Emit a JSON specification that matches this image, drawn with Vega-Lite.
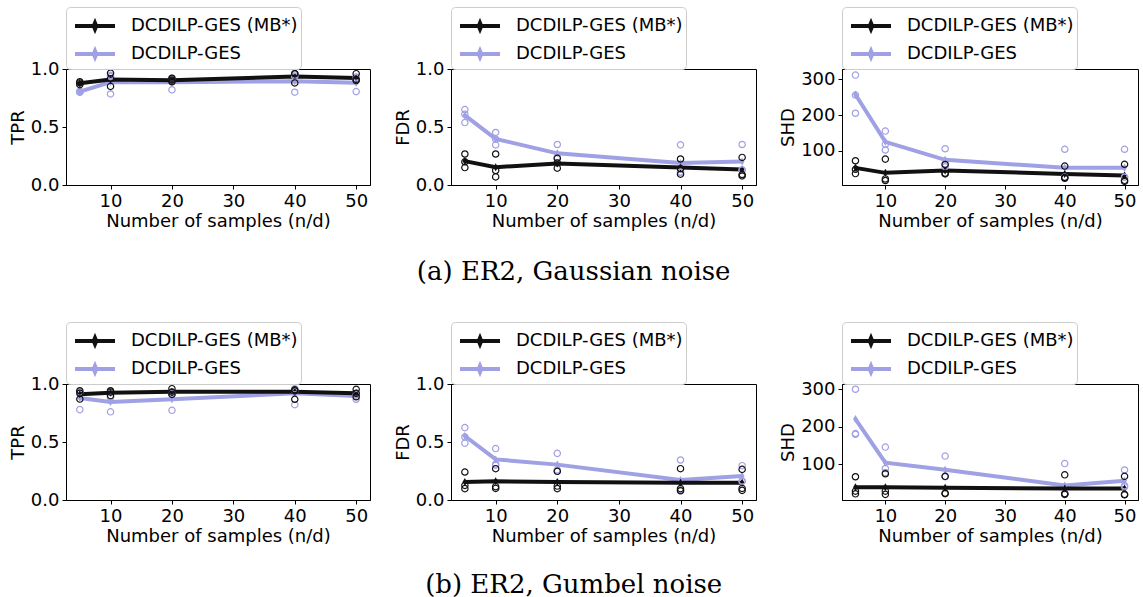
{
"$schema":"https://vega.github.io/schema/vega-lite/v6.json",
"padding":{"left":8,"top":6,"right":0,"bottom":0},
"background":"white",
"datasets":{"d":[
{"p":"aTPR","m":"DCDILP-GES","x":5,"v":0.805,"k":"mean"},{"p":"aTPR","m":"DCDILP-GES","x":10,"v":0.888,"k":"mean"},{"p":"aTPR","m":"DCDILP-GES","x":20,"v":0.885,"k":"mean"},{"p":"aTPR","m":"DCDILP-GES","x":40,"v":0.895,"k":"mean"},{"p":"aTPR","m":"DCDILP-GES","x":50,"v":0.882,"k":"mean"},
{"p":"aTPR","m":"DCDILP-GES (MB*)","x":5,"v":0.878,"k":"mean"},{"p":"aTPR","m":"DCDILP-GES (MB*)","x":10,"v":0.91,"k":"mean"},{"p":"aTPR","m":"DCDILP-GES (MB*)","x":20,"v":0.904,"k":"mean"},{"p":"aTPR","m":"DCDILP-GES (MB*)","x":40,"v":0.935,"k":"mean"},{"p":"aTPR","m":"DCDILP-GES (MB*)","x":50,"v":0.922,"k":"mean"},
{"p":"aTPR","m":"DCDILP-GES","x":5,"v":0.8,"k":"run"},{"p":"aTPR","m":"DCDILP-GES","x":5,"v":0.81,"k":"run"},{"p":"aTPR","m":"DCDILP-GES","x":5,"v":0.8,"k":"run"},
{"p":"aTPR","m":"DCDILP-GES","x":10,"v":0.785,"k":"run"},{"p":"aTPR","m":"DCDILP-GES","x":10,"v":0.935,"k":"run"},{"p":"aTPR","m":"DCDILP-GES","x":10,"v":0.945,"k":"run"},
{"p":"aTPR","m":"DCDILP-GES","x":20,"v":0.82,"k":"run"},{"p":"aTPR","m":"DCDILP-GES","x":20,"v":0.92,"k":"run"},{"p":"aTPR","m":"DCDILP-GES","x":20,"v":0.915,"k":"run"},
{"p":"aTPR","m":"DCDILP-GES","x":40,"v":0.8,"k":"run"},{"p":"aTPR","m":"DCDILP-GES","x":40,"v":0.95,"k":"run"},{"p":"aTPR","m":"DCDILP-GES","x":40,"v":0.935,"k":"run"},
{"p":"aTPR","m":"DCDILP-GES","x":50,"v":0.805,"k":"run"},{"p":"aTPR","m":"DCDILP-GES","x":50,"v":0.93,"k":"run"},{"p":"aTPR","m":"DCDILP-GES","x":50,"v":0.91,"k":"run"},
{"p":"aTPR","m":"DCDILP-GES (MB*)","x":5,"v":0.89,"k":"run"},{"p":"aTPR","m":"DCDILP-GES (MB*)","x":5,"v":0.88,"k":"run"},{"p":"aTPR","m":"DCDILP-GES (MB*)","x":5,"v":0.865,"k":"run"},
{"p":"aTPR","m":"DCDILP-GES (MB*)","x":10,"v":0.965,"k":"run"},{"p":"aTPR","m":"DCDILP-GES (MB*)","x":10,"v":0.85,"k":"run"},{"p":"aTPR","m":"DCDILP-GES (MB*)","x":10,"v":0.915,"k":"run"},
{"p":"aTPR","m":"DCDILP-GES (MB*)","x":20,"v":0.92,"k":"run"},{"p":"aTPR","m":"DCDILP-GES (MB*)","x":20,"v":0.905,"k":"run"},{"p":"aTPR","m":"DCDILP-GES (MB*)","x":20,"v":0.89,"k":"run"},
{"p":"aTPR","m":"DCDILP-GES (MB*)","x":40,"v":0.96,"k":"run"},{"p":"aTPR","m":"DCDILP-GES (MB*)","x":40,"v":0.88,"k":"run"},{"p":"aTPR","m":"DCDILP-GES (MB*)","x":40,"v":0.96,"k":"run"},
{"p":"aTPR","m":"DCDILP-GES (MB*)","x":50,"v":0.96,"k":"run"},{"p":"aTPR","m":"DCDILP-GES (MB*)","x":50,"v":0.91,"k":"run"},{"p":"aTPR","m":"DCDILP-GES (MB*)","x":50,"v":0.9,"k":"run"},

{"p":"aFDR","m":"DCDILP-GES","x":5,"v":0.6,"k":"mean"},{"p":"aFDR","m":"DCDILP-GES","x":10,"v":0.398,"k":"mean"},{"p":"aFDR","m":"DCDILP-GES","x":20,"v":0.273,"k":"mean"},{"p":"aFDR","m":"DCDILP-GES","x":40,"v":0.189,"k":"mean"},{"p":"aFDR","m":"DCDILP-GES","x":50,"v":0.203,"k":"mean"},
{"p":"aFDR","m":"DCDILP-GES (MB*)","x":5,"v":0.206,"k":"mean"},{"p":"aFDR","m":"DCDILP-GES (MB*)","x":10,"v":0.154,"k":"mean"},{"p":"aFDR","m":"DCDILP-GES (MB*)","x":20,"v":0.186,"k":"mean"},{"p":"aFDR","m":"DCDILP-GES (MB*)","x":40,"v":0.151,"k":"mean"},{"p":"aFDR","m":"DCDILP-GES (MB*)","x":50,"v":0.134,"k":"mean"},
{"p":"aFDR","m":"DCDILP-GES","x":5,"v":0.65,"k":"run"},{"p":"aFDR","m":"DCDILP-GES","x":5,"v":0.538,"k":"run"},{"p":"aFDR","m":"DCDILP-GES","x":5,"v":0.61,"k":"run"},
{"p":"aFDR","m":"DCDILP-GES","x":10,"v":0.453,"k":"run"},{"p":"aFDR","m":"DCDILP-GES","x":10,"v":0.346,"k":"run"},{"p":"aFDR","m":"DCDILP-GES","x":10,"v":0.395,"k":"run"},
{"p":"aFDR","m":"DCDILP-GES","x":20,"v":0.349,"k":"run"},{"p":"aFDR","m":"DCDILP-GES","x":20,"v":0.23,"k":"run"},{"p":"aFDR","m":"DCDILP-GES","x":20,"v":0.24,"k":"run"},
{"p":"aFDR","m":"DCDILP-GES","x":40,"v":0.346,"k":"run"},{"p":"aFDR","m":"DCDILP-GES","x":40,"v":0.11,"k":"run"},{"p":"aFDR","m":"DCDILP-GES","x":40,"v":0.11,"k":"run"},
{"p":"aFDR","m":"DCDILP-GES","x":50,"v":0.349,"k":"run"},{"p":"aFDR","m":"DCDILP-GES","x":50,"v":0.13,"k":"run"},{"p":"aFDR","m":"DCDILP-GES","x":50,"v":0.13,"k":"run"},
{"p":"aFDR","m":"DCDILP-GES (MB*)","x":5,"v":0.267,"k":"run"},{"p":"aFDR","m":"DCDILP-GES (MB*)","x":5,"v":0.2,"k":"run"},{"p":"aFDR","m":"DCDILP-GES (MB*)","x":5,"v":0.15,"k":"run"},
{"p":"aFDR","m":"DCDILP-GES (MB*)","x":10,"v":0.267,"k":"run"},{"p":"aFDR","m":"DCDILP-GES (MB*)","x":10,"v":0.07,"k":"run"},{"p":"aFDR","m":"DCDILP-GES (MB*)","x":10,"v":0.125,"k":"run"},
{"p":"aFDR","m":"DCDILP-GES (MB*)","x":20,"v":0.23,"k":"run"},{"p":"aFDR","m":"DCDILP-GES (MB*)","x":20,"v":0.19,"k":"run"},{"p":"aFDR","m":"DCDILP-GES (MB*)","x":20,"v":0.145,"k":"run"},
{"p":"aFDR","m":"DCDILP-GES (MB*)","x":40,"v":0.224,"k":"run"},{"p":"aFDR","m":"DCDILP-GES (MB*)","x":40,"v":0.093,"k":"run"},{"p":"aFDR","m":"DCDILP-GES (MB*)","x":40,"v":0.14,"k":"run"},
{"p":"aFDR","m":"DCDILP-GES (MB*)","x":50,"v":0.238,"k":"run"},{"p":"aFDR","m":"DCDILP-GES (MB*)","x":50,"v":0.078,"k":"run"},{"p":"aFDR","m":"DCDILP-GES (MB*)","x":50,"v":0.09,"k":"run"},

{"p":"aSHD","m":"DCDILP-GES","x":5,"v":257.7,"k":"mean"},{"p":"aSHD","m":"DCDILP-GES","x":10,"v":125,"k":"mean"},{"p":"aSHD","m":"DCDILP-GES","x":20,"v":74.6,"k":"mean"},{"p":"aSHD","m":"DCDILP-GES","x":40,"v":52,"k":"mean"},{"p":"aSHD","m":"DCDILP-GES","x":50,"v":52,"k":"mean"},
{"p":"aSHD","m":"DCDILP-GES (MB*)","x":5,"v":52,"k":"mean"},{"p":"aSHD","m":"DCDILP-GES (MB*)","x":10,"v":38,"k":"mean"},{"p":"aSHD","m":"DCDILP-GES (MB*)","x":20,"v":44.6,"k":"mean"},{"p":"aSHD","m":"DCDILP-GES (MB*)","x":40,"v":35,"k":"mean"},{"p":"aSHD","m":"DCDILP-GES (MB*)","x":50,"v":30.5,"k":"mean"},
{"p":"aSHD","m":"DCDILP-GES","x":5,"v":312,"k":"run"},{"p":"aSHD","m":"DCDILP-GES","x":5,"v":205,"k":"run"},{"p":"aSHD","m":"DCDILP-GES","x":5,"v":256,"k":"run"},
{"p":"aSHD","m":"DCDILP-GES","x":10,"v":155,"k":"run"},{"p":"aSHD","m":"DCDILP-GES","x":10,"v":102,"k":"run"},{"p":"aSHD","m":"DCDILP-GES","x":10,"v":118,"k":"run"},
{"p":"aSHD","m":"DCDILP-GES","x":20,"v":105.6,"k":"run"},{"p":"aSHD","m":"DCDILP-GES","x":20,"v":63,"k":"run"},{"p":"aSHD","m":"DCDILP-GES","x":20,"v":55,"k":"run"},
{"p":"aSHD","m":"DCDILP-GES","x":40,"v":104,"k":"run"},{"p":"aSHD","m":"DCDILP-GES","x":40,"v":26,"k":"run"},{"p":"aSHD","m":"DCDILP-GES","x":40,"v":26,"k":"run"},
{"p":"aSHD","m":"DCDILP-GES","x":50,"v":104,"k":"run"},{"p":"aSHD","m":"DCDILP-GES","x":50,"v":26,"k":"run"},{"p":"aSHD","m":"DCDILP-GES","x":50,"v":26,"k":"run"},
{"p":"aSHD","m":"DCDILP-GES (MB*)","x":5,"v":72,"k":"run"},{"p":"aSHD","m":"DCDILP-GES (MB*)","x":5,"v":48,"k":"run"},{"p":"aSHD","m":"DCDILP-GES (MB*)","x":5,"v":36,"k":"run"},
{"p":"aSHD","m":"DCDILP-GES (MB*)","x":10,"v":76.5,"k":"run"},{"p":"aSHD","m":"DCDILP-GES (MB*)","x":10,"v":16.5,"k":"run"},{"p":"aSHD","m":"DCDILP-GES (MB*)","x":10,"v":21,"k":"run"},
{"p":"aSHD","m":"DCDILP-GES (MB*)","x":20,"v":61.5,"k":"run"},{"p":"aSHD","m":"DCDILP-GES (MB*)","x":20,"v":35,"k":"run"},{"p":"aSHD","m":"DCDILP-GES (MB*)","x":20,"v":37,"k":"run"},
{"p":"aSHD","m":"DCDILP-GES (MB*)","x":40,"v":57,"k":"run"},{"p":"aSHD","m":"DCDILP-GES (MB*)","x":40,"v":23,"k":"run"},{"p":"aSHD","m":"DCDILP-GES (MB*)","x":40,"v":25,"k":"run"},
{"p":"aSHD","m":"DCDILP-GES (MB*)","x":50,"v":62,"k":"run"},{"p":"aSHD","m":"DCDILP-GES (MB*)","x":50,"v":17,"k":"run"},{"p":"aSHD","m":"DCDILP-GES (MB*)","x":50,"v":14,"k":"run"},

{"p":"bTPR","m":"DCDILP-GES","x":5,"v":0.88,"k":"mean"},{"p":"bTPR","m":"DCDILP-GES","x":10,"v":0.845,"k":"mean"},{"p":"bTPR","m":"DCDILP-GES","x":20,"v":0.868,"k":"mean"},{"p":"bTPR","m":"DCDILP-GES","x":40,"v":0.92,"k":"mean"},{"p":"bTPR","m":"DCDILP-GES","x":50,"v":0.897,"k":"mean"},
{"p":"bTPR","m":"DCDILP-GES (MB*)","x":5,"v":0.911,"k":"mean"},{"p":"bTPR","m":"DCDILP-GES (MB*)","x":10,"v":0.925,"k":"mean"},{"p":"bTPR","m":"DCDILP-GES (MB*)","x":20,"v":0.934,"k":"mean"},{"p":"bTPR","m":"DCDILP-GES (MB*)","x":40,"v":0.934,"k":"mean"},{"p":"bTPR","m":"DCDILP-GES (MB*)","x":50,"v":0.92,"k":"mean"},
{"p":"bTPR","m":"DCDILP-GES","x":5,"v":0.779,"k":"run"},{"p":"bTPR","m":"DCDILP-GES","x":5,"v":0.93,"k":"run"},{"p":"bTPR","m":"DCDILP-GES","x":5,"v":0.93,"k":"run"},
{"p":"bTPR","m":"DCDILP-GES","x":10,"v":0.76,"k":"run"},{"p":"bTPR","m":"DCDILP-GES","x":10,"v":0.89,"k":"run"},{"p":"bTPR","m":"DCDILP-GES","x":10,"v":0.885,"k":"run"},
{"p":"bTPR","m":"DCDILP-GES","x":20,"v":0.773,"k":"run"},{"p":"bTPR","m":"DCDILP-GES","x":20,"v":0.915,"k":"run"},{"p":"bTPR","m":"DCDILP-GES","x":20,"v":0.915,"k":"run"},
{"p":"bTPR","m":"DCDILP-GES","x":40,"v":0.822,"k":"run"},{"p":"bTPR","m":"DCDILP-GES","x":40,"v":0.94,"k":"run"},{"p":"bTPR","m":"DCDILP-GES","x":40,"v":0.96,"k":"run"},
{"p":"bTPR","m":"DCDILP-GES","x":50,"v":0.868,"k":"run"},{"p":"bTPR","m":"DCDILP-GES","x":50,"v":0.91,"k":"run"},{"p":"bTPR","m":"DCDILP-GES","x":50,"v":0.91,"k":"run"},
{"p":"bTPR","m":"DCDILP-GES (MB*)","x":5,"v":0.942,"k":"run"},{"p":"bTPR","m":"DCDILP-GES (MB*)","x":5,"v":0.92,"k":"run"},{"p":"bTPR","m":"DCDILP-GES (MB*)","x":5,"v":0.87,"k":"run"},
{"p":"bTPR","m":"DCDILP-GES (MB*)","x":10,"v":0.942,"k":"run"},{"p":"bTPR","m":"DCDILP-GES (MB*)","x":10,"v":0.93,"k":"run"},{"p":"bTPR","m":"DCDILP-GES (MB*)","x":10,"v":0.9,"k":"run"},
{"p":"bTPR","m":"DCDILP-GES (MB*)","x":20,"v":0.96,"k":"run"},{"p":"bTPR","m":"DCDILP-GES (MB*)","x":20,"v":0.93,"k":"run"},{"p":"bTPR","m":"DCDILP-GES (MB*)","x":20,"v":0.91,"k":"run"},
{"p":"bTPR","m":"DCDILP-GES (MB*)","x":40,"v":0.942,"k":"run"},{"p":"bTPR","m":"DCDILP-GES (MB*)","x":40,"v":0.868,"k":"run"},{"p":"bTPR","m":"DCDILP-GES (MB*)","x":40,"v":0.95,"k":"run"},
{"p":"bTPR","m":"DCDILP-GES (MB*)","x":50,"v":0.954,"k":"run"},{"p":"bTPR","m":"DCDILP-GES (MB*)","x":50,"v":0.92,"k":"run"},{"p":"bTPR","m":"DCDILP-GES (MB*)","x":50,"v":0.89,"k":"run"},

{"p":"bFDR","m":"DCDILP-GES","x":5,"v":0.552,"k":"mean"},{"p":"bFDR","m":"DCDILP-GES","x":10,"v":0.35,"k":"mean"},{"p":"bFDR","m":"DCDILP-GES","x":20,"v":0.305,"k":"mean"},{"p":"bFDR","m":"DCDILP-GES","x":40,"v":0.172,"k":"mean"},{"p":"bFDR","m":"DCDILP-GES","x":50,"v":0.207,"k":"mean"},
{"p":"bFDR","m":"DCDILP-GES (MB*)","x":5,"v":0.155,"k":"mean"},{"p":"bFDR","m":"DCDILP-GES (MB*)","x":10,"v":0.161,"k":"mean"},{"p":"bFDR","m":"DCDILP-GES (MB*)","x":20,"v":0.155,"k":"mean"},{"p":"bFDR","m":"DCDILP-GES (MB*)","x":40,"v":0.149,"k":"mean"},{"p":"bFDR","m":"DCDILP-GES (MB*)","x":50,"v":0.149,"k":"mean"},
{"p":"bFDR","m":"DCDILP-GES","x":5,"v":0.624,"k":"run"},{"p":"bFDR","m":"DCDILP-GES","x":5,"v":0.543,"k":"run"},{"p":"bFDR","m":"DCDILP-GES","x":5,"v":0.49,"k":"run"},
{"p":"bFDR","m":"DCDILP-GES","x":10,"v":0.443,"k":"run"},{"p":"bFDR","m":"DCDILP-GES","x":10,"v":0.31,"k":"run"},{"p":"bFDR","m":"DCDILP-GES","x":10,"v":0.3,"k":"run"},
{"p":"bFDR","m":"DCDILP-GES","x":20,"v":0.402,"k":"run"},{"p":"bFDR","m":"DCDILP-GES","x":20,"v":0.26,"k":"run"},{"p":"bFDR","m":"DCDILP-GES","x":20,"v":0.25,"k":"run"},
{"p":"bFDR","m":"DCDILP-GES","x":40,"v":0.345,"k":"run"},{"p":"bFDR","m":"DCDILP-GES","x":40,"v":0.085,"k":"run"},{"p":"bFDR","m":"DCDILP-GES","x":40,"v":0.085,"k":"run"},
{"p":"bFDR","m":"DCDILP-GES","x":50,"v":0.296,"k":"run"},{"p":"bFDR","m":"DCDILP-GES","x":50,"v":0.16,"k":"run"},{"p":"bFDR","m":"DCDILP-GES","x":50,"v":0.165,"k":"run"},
{"p":"bFDR","m":"DCDILP-GES (MB*)","x":5,"v":0.241,"k":"run"},{"p":"bFDR","m":"DCDILP-GES (MB*)","x":5,"v":0.098,"k":"run"},{"p":"bFDR","m":"DCDILP-GES (MB*)","x":5,"v":0.126,"k":"run"},
{"p":"bFDR","m":"DCDILP-GES (MB*)","x":10,"v":0.27,"k":"run"},{"p":"bFDR","m":"DCDILP-GES (MB*)","x":10,"v":0.115,"k":"run"},{"p":"bFDR","m":"DCDILP-GES (MB*)","x":10,"v":0.1,"k":"run"},
{"p":"bFDR","m":"DCDILP-GES (MB*)","x":20,"v":0.247,"k":"run"},{"p":"bFDR","m":"DCDILP-GES (MB*)","x":20,"v":0.098,"k":"run"},{"p":"bFDR","m":"DCDILP-GES (MB*)","x":20,"v":0.12,"k":"run"},
{"p":"bFDR","m":"DCDILP-GES (MB*)","x":40,"v":0.27,"k":"run"},{"p":"bFDR","m":"DCDILP-GES (MB*)","x":40,"v":0.098,"k":"run"},{"p":"bFDR","m":"DCDILP-GES (MB*)","x":40,"v":0.08,"k":"run"},
{"p":"bFDR","m":"DCDILP-GES (MB*)","x":50,"v":0.264,"k":"run"},{"p":"bFDR","m":"DCDILP-GES (MB*)","x":50,"v":0.083,"k":"run"},{"p":"bFDR","m":"DCDILP-GES (MB*)","x":50,"v":0.1,"k":"run"},

{"p":"bSHD","m":"DCDILP-GES","x":5,"v":220.5,"k":"mean"},{"p":"bSHD","m":"DCDILP-GES","x":10,"v":104.5,"k":"mean"},{"p":"bSHD","m":"DCDILP-GES","x":20,"v":85.7,"k":"mean"},{"p":"bSHD","m":"DCDILP-GES","x":40,"v":43.8,"k":"mean"},{"p":"bSHD","m":"DCDILP-GES","x":50,"v":56,"k":"mean"},
{"p":"bSHD","m":"DCDILP-GES (MB*)","x":5,"v":39,"k":"mean"},{"p":"bSHD","m":"DCDILP-GES (MB*)","x":10,"v":39,"k":"mean"},{"p":"bSHD","m":"DCDILP-GES (MB*)","x":20,"v":37.5,"k":"mean"},{"p":"bSHD","m":"DCDILP-GES (MB*)","x":40,"v":35.7,"k":"mean"},{"p":"bSHD","m":"DCDILP-GES (MB*)","x":50,"v":35.7,"k":"mean"},
{"p":"bSHD","m":"DCDILP-GES","x":5,"v":300,"k":"run"},{"p":"bSHD","m":"DCDILP-GES","x":5,"v":180,"k":"run"},{"p":"bSHD","m":"DCDILP-GES","x":5,"v":182,"k":"run"},
{"p":"bSHD","m":"DCDILP-GES","x":10,"v":146,"k":"run"},{"p":"bSHD","m":"DCDILP-GES","x":10,"v":89,"k":"run"},{"p":"bSHD","m":"DCDILP-GES","x":10,"v":78,"k":"run"},
{"p":"bSHD","m":"DCDILP-GES","x":20,"v":122,"k":"run"},{"p":"bSHD","m":"DCDILP-GES","x":20,"v":68,"k":"run"},{"p":"bSHD","m":"DCDILP-GES","x":20,"v":67,"k":"run"},
{"p":"bSHD","m":"DCDILP-GES","x":40,"v":102,"k":"run"},{"p":"bSHD","m":"DCDILP-GES","x":40,"v":20,"k":"run"},{"p":"bSHD","m":"DCDILP-GES","x":40,"v":21,"k":"run"},
{"p":"bSHD","m":"DCDILP-GES","x":50,"v":85,"k":"run"},{"p":"bSHD","m":"DCDILP-GES","x":50,"v":40,"k":"run"},{"p":"bSHD","m":"DCDILP-GES","x":50,"v":43,"k":"run"},
{"p":"bSHD","m":"DCDILP-GES (MB*)","x":5,"v":67,"k":"run"},{"p":"bSHD","m":"DCDILP-GES (MB*)","x":5,"v":21.4,"k":"run"},{"p":"bSHD","m":"DCDILP-GES (MB*)","x":5,"v":28.6,"k":"run"},
{"p":"bSHD","m":"DCDILP-GES (MB*)","x":10,"v":75,"k":"run"},{"p":"bSHD","m":"DCDILP-GES (MB*)","x":10,"v":28.6,"k":"run"},{"p":"bSHD","m":"DCDILP-GES (MB*)","x":10,"v":20,"k":"run"},
{"p":"bSHD","m":"DCDILP-GES (MB*)","x":20,"v":68,"k":"run"},{"p":"bSHD","m":"DCDILP-GES (MB*)","x":20,"v":22,"k":"run"},{"p":"bSHD","m":"DCDILP-GES (MB*)","x":20,"v":23,"k":"run"},
{"p":"bSHD","m":"DCDILP-GES (MB*)","x":40,"v":72,"k":"run"},{"p":"bSHD","m":"DCDILP-GES (MB*)","x":40,"v":22,"k":"run"},{"p":"bSHD","m":"DCDILP-GES (MB*)","x":40,"v":20,"k":"run"},
{"p":"bSHD","m":"DCDILP-GES (MB*)","x":50,"v":68,"k":"run"},{"p":"bSHD","m":"DCDILP-GES (MB*)","x":50,"v":18.8,"k":"run"},{"p":"bSHD","m":"DCDILP-GES (MB*)","x":50,"v":20,"k":"run"}
]},
"config":{
"font":"DejaVu Sans",
"view":{"stroke":"#000000","strokeWidth":1},
"axis":{"labelFont":"DejaVu Sans","labelFontSize":18,"labelColor":"#000000","titleFont":"DejaVu Sans","titleFontSize":18,"titleFontWeight":"normal","titleColor":"#000000","tickColor":"#000000","domainColor":"#000000","tickSize":4,"tickWidth":1,"grid":false,"labelPadding":3,"labelFlush":false,"labelOverlap":false},
"axisX":{"titlePadding":2},
"axisY":{"titlePadding":3},
"legend":{"orient":"none","legendX":0,"legendY":-62,"direction":"vertical","strokeColor":"#cccccc","cornerRadius":4,"fillColor":"#ffffff","padding":3,"labelFont":"DejaVu Sans","labelFontSize":18,"labelColor":"#000000","labelLimit":400,"symbolSize":784,"symbolStrokeWidth":4,"symbolOffset":10,"labelOffset":20,"rowPadding":0},
"title":{"font":"DejaVu Serif","fontSize":26,"fontWeight":"normal","color":"#000000","orient":"bottom","anchor":"middle","offset":28}
},
"spacing":36,
"resolve":{"scale":{"color":"independent","y":"independent","x":"independent"},"legend":{"color":"independent"}},
"vconcat":[
{"title":{"text":"(a) ER2, Gaussian noise"},
"spacing":22,
"resolve":{"scale":{"color":"independent","y":"independent","x":"independent"},"legend":{"color":"independent"}},
"hconcat":[
{"width":304,"height":116,"data":{"name":"d"},"transform":[{"filter":"datum.p=='aTPR'"}],
"encoding":{"x":{"field":"x","type":"quantitative","scale":{"domain":[2.75,52.25],"nice":false,"zero":false},"axis":{"values":[10,20,30,40,50],"title":"Number of samples (n/d)"}},
"y":{"field":"v","type":"quantitative","scale":{"domain":[0,1],"nice":false,"zero":false},"axis":{"values":[0,0.5,1],"format":".1f","title":"TPR"}},
"color":{"field":"m","type":"nominal","scale":{"domain":["DCDILP-GES (MB*)","DCDILP-GES"],"range":["#111111","#a0a0e4"]},"legend":{"title":null,"symbolType":"M-1.43,0H1.43M0,-0.22L0.09,0L0,0.22L-0.09,0Z"}}},
"layer":[
{"transform":[{"filter":"datum.k=='mean'"}],"mark":{"type":"line","strokeWidth":4,"point":{"filled":true,"shape":"M0,-1L0.6,0L0,1L-0.6,0Z","size":64}}},
{"transform":[{"filter":"datum.k=='run'"}],"mark":{"type":"point","filled":false,"size":40,"strokeWidth":1.2,"opacity":1}}
]},
{"width":305,"height":116,"data":{"name":"d"},"transform":[{"filter":"datum.p=='aFDR'"}],
"encoding":{"x":{"field":"x","type":"quantitative","scale":{"domain":[2.75,52.25],"nice":false,"zero":false},"axis":{"values":[10,20,30,40,50],"title":"Number of samples (n/d)"}},
"y":{"field":"v","type":"quantitative","scale":{"domain":[0,1],"nice":false,"zero":false},"axis":{"values":[0,0.5,1],"format":".1f","title":"FDR"}},
"color":{"field":"m","type":"nominal","scale":{"domain":["DCDILP-GES (MB*)","DCDILP-GES"],"range":["#111111","#a0a0e4"]},"legend":{"title":null,"symbolType":"M-1.43,0H1.43M0,-0.22L0.09,0L0,0.22L-0.09,0Z"}}},
"layer":[
{"transform":[{"filter":"datum.k=='mean'"}],"mark":{"type":"line","strokeWidth":4,"point":{"filled":true,"shape":"M0,-1L0.6,0L0,1L-0.6,0Z","size":64}}},
{"transform":[{"filter":"datum.k=='run'"}],"mark":{"type":"point","filled":false,"size":40,"strokeWidth":1.2,"opacity":1}}
]},
{"width":296,"height":116,"data":{"name":"d"},"transform":[{"filter":"datum.p=='aSHD'"}],
"encoding":{"x":{"field":"x","type":"quantitative","scale":{"domain":[2.75,52.25],"nice":false,"zero":false},"axis":{"values":[10,20,30,40,50],"title":"Number of samples (n/d)"}},
"y":{"field":"v","type":"quantitative","scale":{"domain":[4,329],"nice":false,"zero":false},"axis":{"values":[100,200,300],"title":"SHD"}},
"color":{"field":"m","type":"nominal","scale":{"domain":["DCDILP-GES (MB*)","DCDILP-GES"],"range":["#111111","#a0a0e4"]},"legend":{"title":null,"symbolType":"M-1.43,0H1.43M0,-0.22L0.09,0L0,0.22L-0.09,0Z"}}},
"layer":[
{"transform":[{"filter":"datum.k=='mean'"}],"mark":{"type":"line","strokeWidth":4,"point":{"filled":true,"shape":"M0,-1L0.6,0L0,1L-0.6,0Z","size":64}}},
{"transform":[{"filter":"datum.k=='run'"}],"mark":{"type":"point","filled":false,"size":40,"strokeWidth":1.2,"opacity":1}}
]}
]},
{"title":{"text":"(b) ER2, Gumbel noise","offset":26},
"spacing":22,
"resolve":{"scale":{"color":"independent","y":"independent","x":"independent"},"legend":{"color":"independent"}},
"hconcat":[
{"width":304,"height":116,"data":{"name":"d"},"transform":[{"filter":"datum.p=='bTPR'"}],
"encoding":{"x":{"field":"x","type":"quantitative","scale":{"domain":[2.75,52.25],"nice":false,"zero":false},"axis":{"values":[10,20,30,40,50],"title":"Number of samples (n/d)"}},
"y":{"field":"v","type":"quantitative","scale":{"domain":[0,1],"nice":false,"zero":false},"axis":{"values":[0,0.5,1],"format":".1f","title":"TPR"}},
"color":{"field":"m","type":"nominal","scale":{"domain":["DCDILP-GES (MB*)","DCDILP-GES"],"range":["#111111","#a0a0e4"]},"legend":{"title":null,"symbolType":"M-1.43,0H1.43M0,-0.22L0.09,0L0,0.22L-0.09,0Z"}}},
"layer":[
{"transform":[{"filter":"datum.k=='mean'"}],"mark":{"type":"line","strokeWidth":4,"point":{"filled":true,"shape":"M0,-1L0.6,0L0,1L-0.6,0Z","size":64}}},
{"transform":[{"filter":"datum.k=='run'"}],"mark":{"type":"point","filled":false,"size":40,"strokeWidth":1.2,"opacity":1}}
]},
{"width":305,"height":116,"data":{"name":"d"},"transform":[{"filter":"datum.p=='bFDR'"}],
"encoding":{"x":{"field":"x","type":"quantitative","scale":{"domain":[2.75,52.25],"nice":false,"zero":false},"axis":{"values":[10,20,30,40,50],"title":"Number of samples (n/d)"}},
"y":{"field":"v","type":"quantitative","scale":{"domain":[0,1],"nice":false,"zero":false},"axis":{"values":[0,0.5,1],"format":".1f","title":"FDR"}},
"color":{"field":"m","type":"nominal","scale":{"domain":["DCDILP-GES (MB*)","DCDILP-GES"],"range":["#111111","#a0a0e4"]},"legend":{"title":null,"symbolType":"M-1.43,0H1.43M0,-0.22L0.09,0L0,0.22L-0.09,0Z"}}},
"layer":[
{"transform":[{"filter":"datum.k=='mean'"}],"mark":{"type":"line","strokeWidth":4,"point":{"filled":true,"shape":"M0,-1L0.6,0L0,1L-0.6,0Z","size":64}}},
{"transform":[{"filter":"datum.k=='run'"}],"mark":{"type":"point","filled":false,"size":40,"strokeWidth":1.2,"opacity":1}}
]},
{"width":296,"height":116,"data":{"name":"d"},"transform":[{"filter":"datum.p=='bSHD'"}],
"encoding":{"x":{"field":"x","type":"quantitative","scale":{"domain":[2.75,52.25],"nice":false,"zero":false},"axis":{"values":[10,20,30,40,50],"title":"Number of samples (n/d)"}},
"y":{"field":"v","type":"quantitative","scale":{"domain":[5,314],"nice":false,"zero":false},"axis":{"values":[100,200,300],"title":"SHD"}},
"color":{"field":"m","type":"nominal","scale":{"domain":["DCDILP-GES (MB*)","DCDILP-GES"],"range":["#111111","#a0a0e4"]},"legend":{"title":null,"symbolType":"M-1.43,0H1.43M0,-0.22L0.09,0L0,0.22L-0.09,0Z"}}},
"layer":[
{"transform":[{"filter":"datum.k=='mean'"}],"mark":{"type":"line","strokeWidth":4,"point":{"filled":true,"shape":"M0,-1L0.6,0L0,1L-0.6,0Z","size":64}}},
{"transform":[{"filter":"datum.k=='run'"}],"mark":{"type":"point","filled":false,"size":40,"strokeWidth":1.2,"opacity":1}}
]}
]}
]
}
